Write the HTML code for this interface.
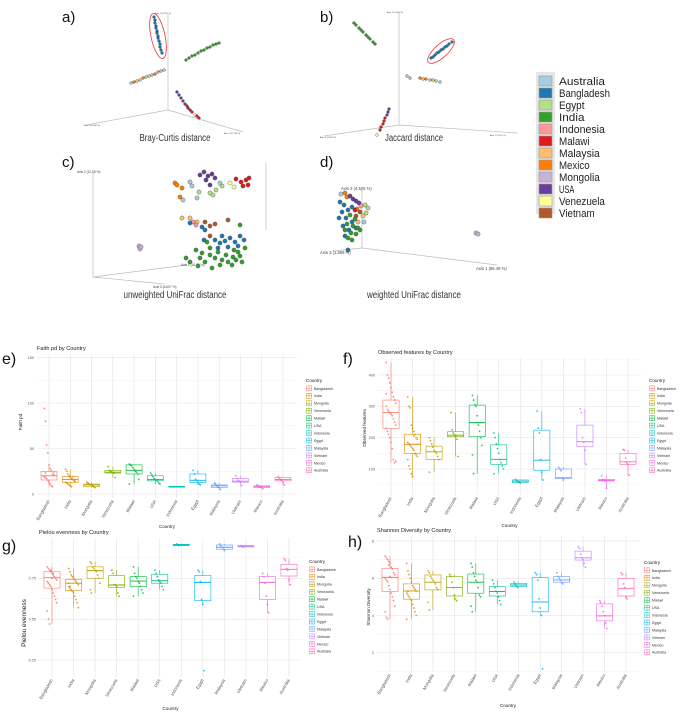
<!DOCTYPE html>
<html><head><meta charset="utf-8">
<style>
html,body{margin:0;padding:0;background:#fff;}
svg{display:block;font-family:"Liberation Sans",sans-serif;}
</style></head>
<body>
<svg id="fig" width="683" height="712" viewBox="0 0 683 712" xmlns="http://www.w3.org/2000/svg">
<rect width="683" height="712" fill="#fff"/>
<g id="topgrp"></g>
<g id="bottomgrp"></g>
</svg>
<script>
// ---------- shared ----------
const countries = ["Bangladesh","India","Mongolia","Venezuela","Malawi","USA","Indonesia","Egypt","Malaysia","Vietnam","Mexico","Australia"];
const hueColors = ["#F8766D","#DE8C00","#B79F00","#7CAE00","#00BA38","#00C08B","#00BFC4","#00B4F0","#619CFF","#C77CFF","#F564E3","#FF64B0"];
const pcoaLegend = ["Australia","Bangladesh","Egypt","India","Indonesia","Malawi","Malaysia","Mexico","Mongolia","USA","Venezuela","Vietnam"];
const pcoaColors = ["#a6cee3","#1f78b4","#b2df8a","#33a02c","#fb9a99","#e31a1c","#fdbf6f","#ff7f00","#cab2d6","#6a3d9a","#ffff99","#b15928"];

// ---------- faith pd ----------
const faithLo  = [8,8,7,18,11,11,7.5,10,5,9,6,10];
const faithQ1  = [15.4,12.8,8,23,22,14.5,7.5,12.5,7,13,7,14.5];
const faithMed = [20,16,10,24,26,16,8,15,9,14,8,16];
const faithQ3  = [24.5,19,10.9,26,32,20,8.5,22,10,17,9,18];
const faithHi  = [32,27,13,30,33,23,8.5,26,12,20,10,19];
const faithTicks = [0,50,100,150];
const faithPts = [
 [94,80,54,45,32,28,26,22,21,19,18,17,15,13,11,9,8,24,20,23],
 [27,25,22,20,18,17,16,15,14,13,12,11,10,9,8,19,16,14],
 [13,12,11,10,10,9,8,7],
 [30,26,25,24,24,23,18],
 [33,32,31,29,27,25,24,22,16,11],
 [23,21,19,17,16,15,14,12,11],
 [8,8,8],
 [26,22,16,15,13,11,10],
 [12,11,9,8,7,5],
 [20,17,15,14,13,9],
 [10,9,8,8,7,6],
 [19,17,16,15,13,10]];

// ---------- observed features ----------
const obsLo  = [120,75,90,140,85,85,53,65,65,115,38,80];
const obsQ1  = [230,150,131,203,203,115,57,96,70,171,62,115];
const obsMed = [280,179,155,208,248,131,61,128,72,187,64,123];
const obsQ3  = [320,211,173,219,304,177,65,224,100,240,67,150];
const obsHi  = [440,330,200,280,335,215,67,285,105,292,78,162];
const obsTicks = [100,200,300,400];
const obsPts = [
 [440,400,390,375,360,345,330,320,310,300,290,285,280,275,270,260,250,240,230,220,210,200,185,165,130,120,125,340],
 [330,300,295,240,230,220,210,200,195,185,180,175,170,165,160,150,145,140,130,110,100,85,75,205],
 [200,190,180,170,160,155,150,140,130,90],
 [280,225,215,210,205,195,140],
 [335,320,305,300,270,240,220,200,175,145,85],
 [215,200,180,165,150,130,120,110,100,85],
 [67,62,60,58,55],
 [285,230,215,130,90,65],
 [105,100,95,72,65],
 [292,280,200,185,160,115],
 [78,66,64,62,38],
 [162,160,135,120,115,80]];

// ---------- pielou ----------
const pielouLo  = [0.47,0.57,0.66,0.64,0.64,0.68,0.95,0.59,0.92,0.94,0.54,0.71];
const pielouQ1  = [0.69,0.674,0.75,0.695,0.699,0.72,0.95,0.613,0.928,0.942,0.62,0.764];
const pielouMed = [0.754,0.72,0.797,0.709,0.733,0.735,0.954,0.725,0.94,0.947,0.725,0.805];
const pielouQ3  = [0.79,0.744,0.82,0.766,0.76,0.775,0.958,0.768,0.954,0.951,0.76,0.836];
const pielouHi  = [0.82,0.81,0.85,0.80,0.82,0.80,0.96,0.80,0.96,0.955,0.78,0.87];
const pielouTicks = [0.25,0.5,0.75];
const pielouTickLabels = ["0.25","0.50","0.75"];
const pielouPts = [
 [0.82,0.81,0.80,0.79,0.78,0.77,0.76,0.75,0.74,0.73,0.72,0.71,0.70,0.68,0.66,0.64,0.62,0.60,0.55,0.50,0.47,0.80,0.75,0.78],
 [0.81,0.79,0.77,0.76,0.75,0.74,0.73,0.72,0.71,0.70,0.69,0.68,0.67,0.66,0.64,0.62,0.60,0.57,0.72,0.70],
 [0.85,0.84,0.82,0.81,0.80,0.79,0.77,0.75,0.72,0.68,0.66],
 [0.80,0.78,0.71,0.71,0.70,0.66,0.64],
 [0.82,0.78,0.76,0.75,0.73,0.72,0.70,0.68,0.66,0.64],
 [0.80,0.78,0.76,0.74,0.73,0.72,0.70,0.68],
 [0.96,0.955,0.95],
 [0.80,0.79,0.73,0.62,0.59,0.184],
 [0.96,0.95,0.94,0.93,0.92],
 [0.95,0.947,0.94],
 [0.78,0.76,0.72,0.64,0.59,0.54],
 [0.87,0.86,0.81,0.80,0.74,0.71]];

// ---------- shannon ----------
const shanLo  = [3.8,3.8,4.3,4.8,4.2,4.6,5.5,4.0,5.7,6.6,3.3,4.9];
const shanQ1  = [5.29,4.875,5.375,5.05,5.2,5.05,5.55,4.2,5.79,6.98,3.71,5.05];
const shanMed = [6.05,5.32,5.79,5.5,5.79,5.29,5.64,4.73,5.91,7.1,3.98,5.46];
const shanQ3  = [6.54,5.7,6.18,6.09,6.23,5.55,5.73,6.04,6.09,7.46,4.625,6.0];
const shanHi  = [7.2,6.8,6.4,6.2,6.8,5.9,5.8,6.3,6.3,7.7,4.8,6.3];
const shanTicks = [2,4,6,8];
const shanPts = [
 [7.2,7.1,7.0,6.9,6.8,6.6,6.5,6.3,6.2,6.0,5.9,5.8,5.6,5.4,5.2,5.0,4.8,4.5,4.2,3.9,3.8,6.7,6.1],
 [6.8,6.4,6.2,6.0,5.8,5.6,5.5,5.4,5.3,5.2,5.1,5.0,4.9,4.8,4.6,4.4,4.2,4.0,3.8,5.3],
 [6.4,6.3,6.1,6.0,5.9,5.8,5.7,5.5,5.4,4.7,4.3],
 [6.2,6.1,5.8,5.5,5.1,4.9,4.8],
 [6.8,6.6,6.3,6.1,5.9,5.8,5.5,5.1,5.0,4.5,4.2],
 [5.9,5.7,5.5,5.3,5.2,5.0,4.8,4.6],
 [5.8,5.7,5.6,5.5],
 [6.3,6.2,5.9,4.9,4.4,4.0,1.13],
 [6.3,6.1,6.0,5.9,5.8,5.7],
 [7.7,7.6,7.3,7.1,7.0,6.8,6.6],
 [4.8,4.7,4.5,4.2,4.0,3.6,3.3],
 [6.3,6.2,5.7,5.5,5.0,4.9]];

// ---------- PCoA scatter data (projected ordination coordinates) ----------
const bcPts = [
 [1,154,17],[1,155,20],[1,155,23],[1,156,26],[1,156,28],[1,157,31],[1,157,33],[1,158,36],[1,158,38],[1,159,41],[1,160,44],[1,160,47],[1,161,50],[1,162,53],
 [3,186,60],[3,189,58],[3,192,56],[3,195,55],[3,198,53],[3,201,51],[3,204,50],[3,207,48],[3,210,47],[3,213,45],[3,216,44],[3,219,43],
 [0,131,83],[7,134,82],[6,137,81],[0,140,80],[7,143,78],[2,146,77],[6,149,76],[0,152,75],[7,155,74],[4,158,72],[0,161,71],[6,164,70],
 [9,177,92],[9,179,95],[9,181,98],[9,183,101],[9,185,104],[5,187,106],[9,188,108],[5,190,110],[5,192,112],[10,195,115],[5,197,116],[5,199,118]];
const jacPts = [
 [3,354,23],[3,356,25],[3,359,28],[3,361,30],[3,363,32],[3,366,35],[3,368,37],[3,370,39],[3,373,42],[3,375,44],
 [1,431,58],[1,433,57],[1,435,55],[1,437,53],[1,439,52],[1,441,50],[1,443,49],[1,445,47],[1,447,46],[1,449,44],[1,452,42],
 [2,407,76],[8,410,78],[7,420,78],[6,423,79],[7,426,79],[0,430,80],[6,433,80],[2,436,81],[0,440,82],
 [9,389,109],[9,388,112],[9,387,115],[5,385,118],[5,384,121],[5,383,124],[5,381,127],[5,380,130],[10,377,135]];
const uniPts = [
 [7,175,183],[7,177,185],[7,182,188],[7,180,197],[0,190,182],[0,192,186],[0,183,200],[0,197,198],
 [9,200,175],[9,204,172],[9,208,176],[9,212,174],[9,206,180],[9,215,178],[9,210,185],
 [2,199,192],[2,210,193],[2,216,190],[2,213,195],[2,222,186],[0,220,183],
 [5,236,179],[5,241,182],[5,246,180],[5,248,185],[5,243,186],[5,249,178],[10,230,183],[10,234,187],
 [6,182,218],[6,190,218],[6,197,222],[4,193,222],[4,196,225],[1,190,223],[1,202,227],[1,205,230],
 [11,205,222],[11,210,226],[11,215,224],[11,210,236],[11,228,220],
 [1,215,240],[1,220,243],[1,225,241],[1,230,238],[1,235,242],[1,240,236],[1,244,240],[1,218,248],[1,228,247],[1,238,246],[1,204,240],[1,222,236],
 [3,240,225],[3,196,250],[3,202,253],[3,210,255],[3,218,252],[3,226,255],[3,234,250],[3,240,256],[3,245,248],[3,190,262],[3,198,266],[3,205,262],[3,212,268],[3,220,265],[3,228,262],[3,236,260],[3,242,262],[3,186,258],[3,215,258],[3,222,260],[3,232,265],[3,200,258],[3,238,252],[3,210,248],[3,207,242],[3,233,257],
 [8,139,246],[8,140,249],[8,141,247]];
const wuniPts = [
 [0,341,194],[7,345,193],[7,347,197],[9,350,196],[9,353,199],[9,356,201],[9,359,203],[2,365,205],[2,368,208],[2,366,213],
 [1,340,202],[1,344,205],[1,348,210],[1,352,207],[1,342,212],[1,339,218],[1,346,218],[1,352,222],[1,343,226],[1,349,230],[1,356,228],[1,345,236],
 [7,357,209],[11,360,212],[11,356,216],[6,363,216],[6,358,222],[4,361,206],[5,355,210],[0,364,222],
 [3,350,215],[3,355,219],[3,347,224],[3,353,226],[3,358,228],[3,351,233],[3,356,234],[3,348,238],[3,352,240],[3,360,230],[3,345,230],
 [8,476,233],[8,478,234],[1,348,250]];

// ---------- helpers ----------
const NS = "http://www.w3.org/2000/svg";
function mk(parent, tag, attrs, text){
  const e = document.createElementNS(NS, tag);
  for (const k in attrs) e.setAttribute(k, attrs[k]);
  if (text !== undefined) e.textContent = text;
  parent.appendChild(e);
  return e;
}
const topG = document.getElementById('topgrp');
const bottomG = document.getElementById('bottomgrp');

// ---------- top panels ----------
function label(parent, x, y, t, name){
  const e = mk(parent,'text',{x:x,y:y,'font-size':15,fill:'#111'},t);
  
  
}
function caption(parent, cx, y, t, w, name){
  const e = mk(parent,'text',{x:cx-w/2,y:y,'font-size':10,fill:'#333',textLength:w,lengthAdjust:'spacingAndGlyphs'},t);
  
  
}
function axisLine(parent,x1,y1,x2,y2,name){
  const e = mk(parent,'line',{x1:x1,y1:y1,x2:x2,y2:y2,stroke:'#bbb','stroke-width':0.7});
  
  
}
function axisText(parent,x,y,t,fs,name){
  const e = mk(parent,'text',{x:x,y:y,'font-size':fs,fill:'#444'},t);
  
  
}
function proj(v){ return v; }
function scatter(parent, pts, r, name){
  const g = mk(parent,'g',{});
  
  
  pts.forEach(p=>{
    const c = mk(g,'circle',{cx:proj(p[1]),cy:proj(p[2]),r:r,fill:pcoaColors[p[0]],stroke:'#333','stroke-width':0.35});
    
    
  });
}
label(topG,62,22,'a)','panel-label-a');
label(topG,320,22,'b)','panel-label-b');
label(topG,62,167,'c)','panel-label-c');
label(topG,320,167,'d)','panel-label-d');

// a
axisLine(topG,168,14,168,110,'a-axis-2');
axisLine(topG,168,110,86,125,'a-axis-3');
axisLine(topG,168,110,243,132,'a-axis-1');
axisText(topG,155,14,'Axis 2 (9.185 %)',2.2,'a-axis-2-label');
axisText(topG,84,126,'Axis 3 (4.468 %)',2.2,'a-axis-3-label');
axisText(topG,224,134,'Axis 1 (12.30 %)',2.2,'a-axis-1-label');
scatter(topG,bcPts,1.4,'bray-curtis-points');
(function(){const e=mk(topG,'ellipse',{cx:158,cy:36,rx:7,ry:23,fill:'none',stroke:'#e33','stroke-width':0.8,transform:'rotate(-12 158 36)'});})();
caption(topG,175,141,'Bray-Curtis distance',71,'caption-bray-curtis');

// b
axisLine(topG,399,12,399,125,'b-axis-2');
axisLine(topG,399,125,324,136,'b-axis-3');
axisLine(topG,399,125,517,133,'b-axis-1');
axisText(topG,387,13,'Axis 2 (2.991 %)',2.2,'b-axis-2-label');
axisText(topG,320,138,'Axis 3 (4.620 %)',2.2,'b-axis-3-label');
axisText(topG,490,136,'Axis 1 (11.07 %)',2.2,'b-axis-1-label');
scatter(topG,jacPts,1.4,'jaccard-points');
(function(){const e=mk(topG,'ellipse',{cx:441,cy:51,rx:17,ry:6.5,fill:'none',stroke:'#e33','stroke-width':0.8,transform:'rotate(-42 441 51)'});})();
caption(topG,414,141,'Jaccard distance',58,'caption-jaccard');

// c
axisLine(topG,93,172,93,277,'c-axis-2');
axisLine(topG,93,277,186,265,'c-axis-1');
axisLine(topG,93,277,164,284,'c-axis-3');
axisLine(topG,266,163,266,230,'c-box-edge');
axisText(topG,77,173,'Axis 2 (12.05 %)',3.2,'c-axis-2-label');
axisText(topG,181,266,'Axis 1 (16.30 %)',3.2,'c-axis-1-label');
axisText(topG,153,288,'Axis 3 (6.607 %)',3.2,'c-axis-3-label');
scatter(topG,uniPts,2.1,'unweighted-unifrac-points');
caption(topG,175,298,'unweighted UniFrac distance',103,'caption-unweighted-unifrac');

// d
axisLine(topG,362,190,362,248,'d-axis-2');
axisLine(topG,362,248,497,265,'d-axis-1');
axisLine(topG,362,248,333,251,'d-axis-3');
scatter(topG,wuniPts,2.1,'weighted-unifrac-points');
axisText(topG,341,190,'Axis 2 (4.525 %)',4.2,'d-axis-2-label');
axisText(topG,320,254,'Axis 3 (1.599 %)',4.2,'d-axis-3-label');
axisText(topG,476,270,'Axis 1 (85.49 %)',4.2,'d-axis-1-label');
caption(topG,414,298,'weighted UniFrac distance',94,'caption-weighted-unifrac');

// legend
(function(){
  const g = mk(topG,'g',{});
  
  
  mk(g,'rect',{x:536,y:72,width:19,height:142,fill:'#e6e6e6'});
  pcoaLegend.forEach((n,i)=>{
    const y = 77 + i*12;
    const it = mk(g,'g',{});
    
    
    mk(it,'rect',{x:539,y:y-1,width:13,height:10,fill:pcoaColors[i],stroke:'#999','stroke-width':0.6});
    mk(it,'text',{x:559,y:y+8,'font-size':11,fill:'#222',textLength:n.length*5.1,lengthAdjust:'spacingAndGlyphs'},n);
  });
})();

// ---------- bottom boxplot panels ----------
function boxPanel(cfg){
  const g = mk(bottomG,'g',{});
  
  
  const yS = v => cfg.y0 + (v - cfg.v0) * (cfg.y1 - cfg.y0) / (cfg.v1 - cfg.v0);
  const xS = i => cfg.cx0 + i * (cfg.cx1 - cfg.cx0) / (countries.length - 1);
  const step = (cfg.cx1 - cfg.cx0)/(countries.length-1);
  const grid = mk(g,'g',{});
  
  
  for (let k=0;k<cfg.ticks.length;k++){
    const t = cfg.ticks[k];
    const y = yS(t);
    if (y>=cfg.top-0.5 && y<=cfg.bot+0.5) mk(grid,'line',{x1:cfg.left,x2:cfg.right,y1:y,y2:y,stroke:'#e3e3e3','stroke-width':0.6});
    const tl = mk(g,'text',{x:cfg.left-3,y:y+1.3,'font-size':3.8,fill:'#555','text-anchor':'end'},cfg.tickLabels?cfg.tickLabels[k]:String(t));
    
    
    const half = (cfg.ticks.length>1) ? (cfg.ticks[1]-cfg.ticks[0])/2 : 0;
    [t-half,t+half].forEach(m=>{
      const ym = yS(m);
      if (ym>cfg.top && ym<cfg.bot) mk(grid,'line',{x1:cfg.left,x2:cfg.right,y1:ym,y2:ym,stroke:'#f0f0f0','stroke-width':0.4});
    });
  }
  countries.forEach((c,i)=>{
    mk(grid,'line',{x1:xS(i),x2:xS(i),y1:cfg.top,y2:cfg.bot,stroke:'#e3e3e3','stroke-width':0.6});
  });
  countries.forEach((c,i)=>{
    const x = xS(i), col = hueColors[i], w = step*0.75;
    const bg = mk(g,'g',{});
    
    
    mk(bg,'line',{x1:x,x2:x,y1:yS(cfg.hi[i]),y2:yS(cfg.q3[i]),stroke:col,'stroke-width':0.6});
    mk(bg,'line',{x1:x,x2:x,y1:yS(cfg.q1[i]),y2:yS(cfg.lo[i]),stroke:col,'stroke-width':0.6});
    const yt = yS(cfg.q3[i]), yb = yS(cfg.q1[i]);
    mk(bg,'rect',{x:x-w/2,y:Math.min(yt,yb),width:w,height:Math.max(0.8,Math.abs(yb-yt)),fill:'#fff','fill-opacity':0.6,stroke:col,'stroke-width':0.6});
    mk(bg,'line',{x1:x-w/2,x2:x+w/2,y1:yS(cfg.med[i]),y2:yS(cfg.med[i]),stroke:col,'stroke-width':0.9});
    cfg.pts[i].forEach((v,j)=>{
      const jx = (((j*37)%9)-4) * step*0.055;
      const p = mk(bg,'circle',{cx:x+jx,cy:yS(v),r:0.9,fill:col,'fill-opacity':0.85});
      
      
    });
    const xl = mk(g,'text',{x:x+1,y:cfg.bot+3,'font-size':4.3,fill:'#555','text-anchor':'end',transform:`rotate(-60 ${x+1} ${cfg.bot+3})`},c);
    
    
  });
  const tt = mk(g,'text',{x:cfg.left,y:cfg.top-4,'font-size':5.6,fill:'#222'},cfg.title);
  
  
  const xt = mk(g,'text',{x:(cfg.left+cfg.right)/2,y:cfg.xTitleY,'font-size':4.6,fill:'#222','text-anchor':'middle'},'Country');
  
  
  const yt2 = mk(g,'text',{x:cfg.yTitleX,y:cfg.yTitleY,'font-size':cfg.yTitleFs,fill:'#222','text-anchor':'middle',transform:`rotate(-90 ${cfg.yTitleX} ${cfg.yTitleY})`},cfg.yTitle);
  
  
  const pl = mk(g,'text',{x:cfg.labX,y:cfg.labY,'font-size':16,fill:'#111'},cfg.letter);
  
  
  const lg = mk(g,'g',{});
  
  
  mk(lg,'text',{x:cfg.legX,y:cfg.legY,'font-size':4.6,fill:'#222'},'Country');
  countries.forEach((c,i)=>{
    const y = cfg.legY + 7.45 + i*7.45;
    const it = mk(lg,'g',{});
    
    
    mk(it,'rect',{x:cfg.legX+0.5,y:y-3.6,width:5,height:5,fill:'none',stroke:hueColors[i],'stroke-width':0.5});
    mk(it,'line',{x1:cfg.legX+0.5,x2:cfg.legX+5.5,y1:y-1.1,y2:y-1.1,stroke:hueColors[i],'stroke-width':0.5});
    mk(it,'line',{x1:cfg.legX+3,x2:cfg.legX+3,y1:y-3.6,y2:y+1.4,stroke:hueColors[i],'stroke-width':0.5});
    mk(it,'text',{x:cfg.legX+8,y:y+0.3,'font-size':3.6,fill:'#333'},c);
  });
}

boxPanel({name:'faith-pd-panel',title:'Faith pd by Country',letter:'e)',labX:2,labY:364,
  left:37,right:297,top:354,bot:498,cx0:49,cx1:283,v0:0,y0:494,v1:100,y1:403,
  ticks:faithTicks,lo:faithLo,q1:faithQ1,med:faithMed,q3:faithQ3,hi:faithHi,pts:faithPts,
  xTitleY:528,yTitle:'Faith pd',yTitleX:22,yTitleY:422,yTitleFs:4.6,legX:306,legY:382});
boxPanel({name:'observed-features-panel',title:'Observed features by Country',letter:'f)',labX:343,labY:364,
  left:378,right:641,top:358,bot:495,cx0:391,cx1:628,v0:100,y0:469,v1:400,y1:375,
  ticks:obsTicks,lo:obsLo,q1:obsQ1,med:obsMed,q3:obsQ3,hi:obsHi,pts:obsPts,
  xTitleY:527,yTitle:'Observed features',yTitleX:366,yTitleY:428,yTitleFs:4.6,legX:649,legY:382});
boxPanel({name:'pielou-evenness-panel',title:'Pielou evenness by Country',letter:'g)',labX:2,labY:551,
  left:39,right:302,top:538,bot:677,cx0:52,cx1:289,v0:0.25,y0:660,v1:0.75,y1:578.3,
  ticks:pielouTicks,tickLabels:pielouTickLabels,lo:pielouLo,q1:pielouQ1,med:pielouMed,q3:pielouQ3,hi:pielouHi,pts:pielouPts,
  xTitleY:710,yTitle:'Pielou evenness',yTitleX:26,yTitleY:623,yTitleFs:6.5,legX:309,legY:563});
boxPanel({name:'shannon-diversity-panel',title:'Shannon Diversity by Country',letter:'h)',labX:348,labY:547,
  left:377,right:639,top:536,bot:672,cx0:390,cx1:626,v0:2,y0:652.7,v1:6,y1:578.3,
  ticks:shanTicks,lo:shanLo,q1:shanQ1,med:shanMed,q3:shanQ3,hi:shanHi,pts:shanPts,
  xTitleY:707,yTitle:'Shannon Diversity',yTitleX:370,yTitleY:607,yTitleFs:4.6,legX:644,legY:564});
</script>
</body></html>
